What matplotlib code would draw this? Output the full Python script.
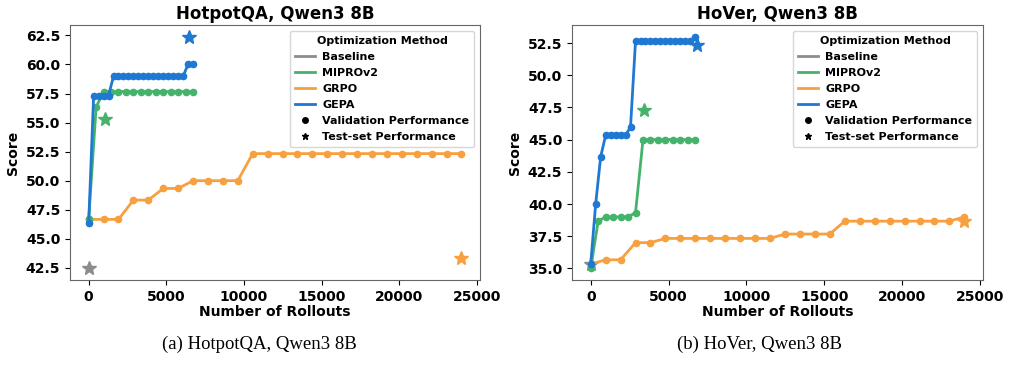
import matplotlib
matplotlib.use("Agg")
import matplotlib.pyplot as plt
from matplotlib.lines import Line2D

plt.rcParams['font.family'] = ['DejaVu Sans']
plt.rcParams['font.weight'] = 'bold'
plt.rcParams['axes.labelweight'] = 'bold'
plt.rcParams['axes.titleweight'] = 'bold'

# ---------------- data ----------------
# HotpotQA
hp_gepa_x = [i * 320 for i in range(22)]
hp_gepa_y = [46.33] + [57.33] * 4 + [59.0] * 15 + [60.0] * 2
hp_mipro_x = [i * 480 for i in range(15)]
hp_mipro_y = [46.67, 56.33] + [57.67] * 13
hp_grpo_x = [i * 960 for i in range(26)]
hp_grpo_y = [46.67, 46.67, 46.67, 48.33, 48.33, 49.33, 49.33, 50.0, 50.0, 50.0, 50.0] + [52.33] * 15
hp_test = {"Baseline": (0, 42.45), "MIPROv2": (1050, 55.33),
           "GRPO": (24000, 43.33), "GEPA": (6450, 62.4)}

# HoVer
hv_gepa_x = [i * 320 for i in range(22)]
hv_gepa_y = [35.33, 40.0, 43.67] + [45.33] * 5 + [46.0] + [52.67] * 12 + [53.0]
hv_mipro_x = [i * 480 for i in range(15)]
hv_mipro_y = [35.0, 38.67, 39.0, 39.0, 39.0, 39.0, 39.33] + [45.0] * 8
hv_grpo_x = [i * 960 for i in range(26)]
hv_grpo_y = ([35.33, 35.67, 35.67, 37.0, 37.0] + [37.33] * 8 + [37.67] * 4
             + [38.67] * 8 + [39.0])
hv_test = {"Baseline": (0, 35.33), "MIPROv2": (3420, 47.33),
           "GRPO": (24000, 38.67), "GEPA": (6850, 52.33)}

methods = ["Baseline", "MIPROv2", "GRPO", "GEPA"]
colors = {"Baseline": "#8c8c8c", "MIPROv2": "#45b36b",
          "GRPO": "#f7a040", "GEPA": "#1f78d1"}

titles = ["HotpotQA, Qwen3 8B", "HoVer, Qwen3 8B"]
captions = ["(a) HotpotQA, Qwen3 8B", "(b) HoVer, Qwen3 8B"]

fig = plt.figure(figsize=(10.24, 3.70), dpi=100)
ax1 = fig.add_axes([0.0684, 0.2432, 0.4004, 0.6892])
ax2 = fig.add_axes([0.5586, 0.2432, 0.4014, 0.6892])

datasets = [
    (ax1, (hp_mipro_x, hp_mipro_y), (hp_grpo_x, hp_grpo_y), (hp_gepa_x, hp_gepa_y), hp_test),
    (ax2, (hv_mipro_x, hv_mipro_y), (hv_grpo_x, hv_grpo_y), (hv_gepa_x, hv_gepa_y), hv_test),
]

for k, (ax, mip, grp, gep, test) in enumerate(datasets):
    x, y = test["Baseline"]
    ax.plot([x], [y], linestyle='None', marker='*', ms=10,
            color=colors["Baseline"], zorder=1)
    ax.plot(grp[0], grp[1], color=colors["GRPO"], lw=2, marker='o', ms=4.5, zorder=2)
    ax.plot(mip[0], mip[1], color=colors["MIPROv2"], lw=2, marker='o', ms=4.5, zorder=2)
    ax.plot(gep[0], gep[1], color=colors["GEPA"], lw=2, marker='o', ms=4.5, zorder=2)
    for m in methods[1:]:
        x, y = test[m]
        ax.plot([x], [y], linestyle='None', marker='*', ms=10, color=colors[m], zorder=3)
    ax.set_title(titles[k], fontsize=12, fontweight='bold', pad=4)
    ax.set_xlabel("Number of Rollouts", fontsize=10, labelpad=1)
    ax.set_ylabel("Score", fontsize=10)
    ax.set_xticks([0, 5000, 10000, 15000, 20000, 25000])
    ax.tick_params(labelsize=10)
    for lab in ax.get_xticklabels() + ax.get_yticklabels():
        lab.set_fontweight('bold')
    for s in ax.spines.values():
        s.set_edgecolor('#666666')
    handles = [Line2D([], [], color=colors[m], lw=2) for m in methods]
    handles += [Line2D([], [], color='k', marker='o', ls='None', ms=4),
                Line2D([], [], color='k', marker='*', ls='None', ms=5)]
    labels = methods + ["Validation Performance", "Test-set Performance"]
    leg = ax.legend(handles, labels, title="Optimization Method", loc='upper right',
                    title_fontsize=8, handlelength=1.8,
                    labelspacing=0.55, borderpad=0.45, handletextpad=0.7,
                    prop={'weight': 'bold', 'size': 8})
    leg.get_title().set_fontweight('bold')

fig.text(0.253, 0.07, captions[0], ha='center', va='center',
         fontsize=13.5, family='Liberation Serif', fontweight='normal')
fig.text(0.742, 0.07, captions[1], ha='center', va='center',
         fontsize=13.5, family='Liberation Serif', fontweight='normal')

fig.savefig("out.png", dpi=100)
